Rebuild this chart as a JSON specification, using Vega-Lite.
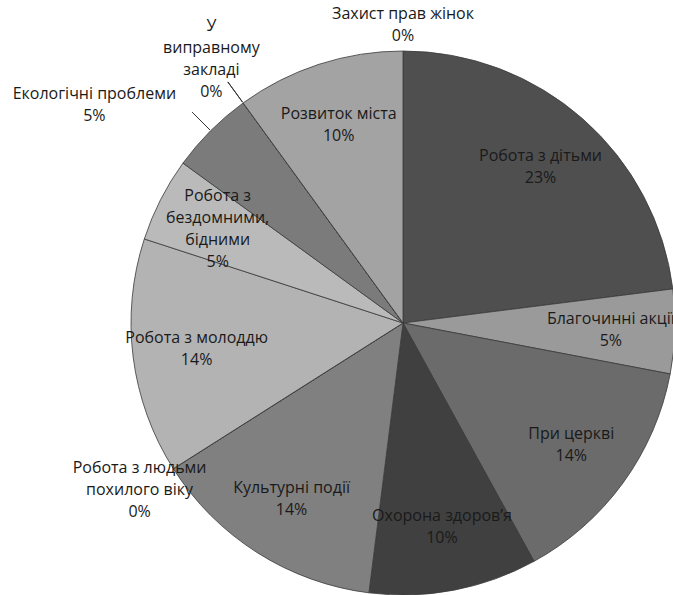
{
  "$schema": "https://vega.github.io/schema/vega-lite/v6.json",
  "width": 806,
  "height": 646,
  "autosize": "none",
  "padding": 0,
  "background": "white",
  "view": {"stroke": null},
  "data": {
    "values": [
      {"i": 1, "name": "Захист прав жінок", "label": "Захист прав жінок", "value": 0},
      {"i": 2, "name": "Робота з дітьми", "label": "Робота з дітьми", "value": 23},
      {"i": 3, "name": "Благочинні акції", "label": "Благочинні акції", "value": 5},
      {"i": 4, "name": "При церкві", "label": "При церкві", "value": 14},
      {"i": 5, "name": "Охорона здоров’я", "label": "Охорона здоров’я", "value": 10},
      {"i": 6, "name": "Культурні події", "label": "Культурні події", "value": 14},
      {"i": 7, "name": "Робота з людьми похилого віку", "label": "Робота з людьми\nпохилого віку", "value": 0},
      {"i": 8, "name": "Робота з молоддю", "label": "Робота з молоддю", "value": 14},
      {"i": 9, "name": "Робота з бездомними, бідними", "label": "Робота з\nбездомними,\nбідними", "value": 5},
      {"i": 10, "name": "Екологічні проблеми", "label": "Екологічні проблеми", "value": 5},
      {"i": 11, "name": "У виправному закладі", "label": "У\nвиправному\nзакладі", "value": 0},
      {"i": 12, "name": "Розвиток міста", "label": "Розвиток міста", "value": 10}
    ]
  },
  "encoding": {
    "theta": {"field": "value", "type": "quantitative", "stack": true},
    "order": {"field": "i", "type": "quantitative"}
  },
  "layer": [
    {
      "mark": {"type": "arc", "outerRadius": 272, "stroke": "#3a3a3a", "strokeWidth": 0.8},
      "encoding": {
        "color": {
          "field": "name",
          "type": "nominal",
          "legend": null,
          "scale": {
            "domain": ["Захист прав жінок", "Робота з дітьми", "Благочинні акції", "При церкві", "Охорона здоров’я", "Культурні події", "Робота з людьми похилого віку", "Робота з молоддю", "Робота з бездомними, бідними", "Екологічні проблеми", "У виправному закладі", "Розвиток міста"],
            "range": ["#888888", "#4f4f4f", "#9a9a9a", "#6b6b6b", "#404040", "#808080", "#aaaaaa", "#b3b3b3", "#bababa", "#7b7b7b", "#999999", "#a3a3a3"]
          }
        }
      }
    },
    {
      "transform": [
        {"window": [{"op": "sum", "field": "value", "as": "cum"}], "sort": [{"field": "i"}], "frame": [null, 0]},
        {"calculate": "datum.cum - datum.value / 2", "as": "mid"},
        {"filter": "datum.name == 'Екологічні проблеми' || datum.name == 'У виправному закладі'"}
      ],
      "mark": {
        "type": "arc",
        "innerRadius": 273,
        "outerRadius": 298,
        "fillOpacity": 0,
        "stroke": "#333333",
        "strokeWidth": 1
      },
      "encoding": {
        "theta": {"field": "mid", "type": "quantitative", "stack": null},
        "theta2": {"field": "mid"}
      }
    },
    {
      "transform": [{"calculate": "datum.label + '\\n' + datum.value + '%'", "as": "txt"}],
      "mark": {
        "type": "text",
        "radius": {"expr": "datum.name == 'Екологічні проблеми' ? 378 : (datum.value == 0 ? 270 + 14 * length(split(datum.txt, '\\n')) : 208)"},
        "thetaOffset": {"expr": "datum.name == 'Екологічні проблеми' ? -0.17 : 0"},
        "dy": {"expr": "-(length(split(datum.txt, '\\n')) - 1) * 11"},
        "lineBreak": "\n",
        "font": "Open Sans",
        "fontSize": 16,
        "lineHeight": 22,
        "fill": "#1a1a1a"
      },
      "encoding": {"text": {"field": "txt", "type": "nominal"}}
    }
  ]
}
